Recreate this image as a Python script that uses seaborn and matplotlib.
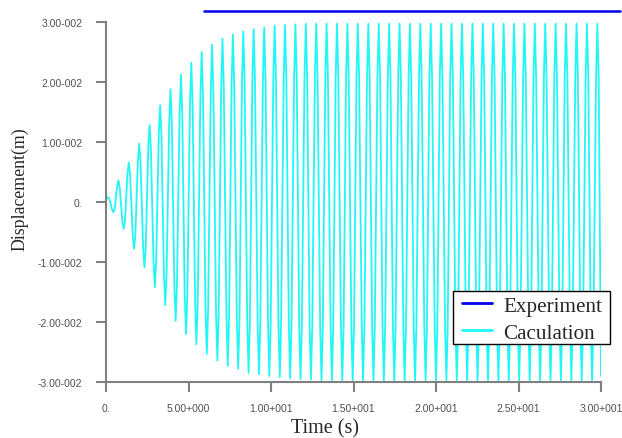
import matplotlib
matplotlib.use("Agg")
import matplotlib.pyplot as plt
from matplotlib.patches import Rectangle
import pandas as pd
import seaborn as sns

# ---- data (each cycle: shoulder, extreme, shoulder) ----
calc_time = [
    0.00,
    0.04, 0.12, 0.20,   0.36, 0.44, 0.52,   0.67, 0.75, 0.83,   0.99, 1.07, 1.15,
    1.30, 1.38, 1.46,   1.62, 1.70, 1.78,   1.93, 2.01, 2.09,   2.25, 2.33, 2.41,
    2.56, 2.64, 2.72,   2.88, 2.96, 3.04,   3.20, 3.28, 3.36,   3.51, 3.59, 3.67,
    3.83, 3.91, 3.99,   4.14, 4.22, 4.30,   4.46, 4.54, 4.62,   4.77, 4.85, 4.93,
    5.09, 5.17, 5.25,   5.40, 5.48, 5.56,   5.72, 5.80, 5.88,   6.03, 6.11, 6.19,
    6.35, 6.43, 6.51,   6.67, 6.75, 6.83,   6.98, 7.06, 7.14,   7.30, 7.38, 7.46,
    7.61, 7.69, 7.77,   7.93, 8.01, 8.09,   8.24, 8.32, 8.40,   8.56, 8.64, 8.72,
    8.87, 8.95, 9.03,   9.19, 9.27, 9.35,   9.51, 9.59, 9.67,   9.82, 9.90, 9.98,
    10.14, 10.22, 10.30,   10.45, 10.53, 10.61,   10.77, 10.85, 10.93,   11.08, 11.16, 11.24,
    11.40, 11.48, 11.56,   11.71, 11.79, 11.87,   12.03, 12.11, 12.19,   12.34, 12.42, 12.50,
    12.66, 12.74, 12.82,   12.98, 13.06, 13.14,   13.29, 13.37, 13.45,   13.61, 13.69, 13.77,
    13.92, 14.00, 14.08,   14.24, 14.32, 14.40,   14.55, 14.63, 14.71,   14.87, 14.95, 15.03,
    15.18, 15.26, 15.34,   15.50, 15.58, 15.66,   15.82, 15.90, 15.98,   16.13, 16.21, 16.29,
    16.45, 16.53, 16.61,   16.76, 16.84, 16.92,   17.08, 17.16, 17.24,   17.39, 17.47, 17.55,
    17.71, 17.79, 17.87,   18.02, 18.10, 18.18,   18.34, 18.42, 18.50,   18.65, 18.73, 18.81,
    18.97, 19.05, 19.13,   19.29, 19.37, 19.45,   19.60, 19.68, 19.76,   19.92, 20.00, 20.08,
    20.23, 20.31, 20.39,   20.55, 20.63, 20.71,   20.86, 20.94, 21.02,   21.18, 21.26, 21.34,
    21.49, 21.57, 21.65,   21.81, 21.89, 21.97,   22.13, 22.21, 22.29,   22.44, 22.52, 22.60,
    22.76, 22.84, 22.92,   23.07, 23.15, 23.23,   23.39, 23.47, 23.55,   23.70, 23.78, 23.86,
    24.02, 24.10, 24.18,   24.33, 24.41, 24.49,   24.65, 24.73, 24.81,   24.96, 25.04, 25.12,
    25.28, 25.36, 25.44,   25.60, 25.68, 25.76,   25.91, 25.99, 26.07,   26.23, 26.31, 26.39,
    26.54, 26.62, 26.70,   26.86, 26.94, 27.02,   27.17, 27.25, 27.33,   27.49, 27.57, 27.65,
    27.80, 27.88, 27.96,   28.12, 28.20, 28.28,   28.44, 28.52, 28.60,   28.75, 28.83, 28.91,
    29.07, 29.15, 29.23,   29.38, 29.46, 29.54,   29.70, 29.78, 29.86,
    30.00,
]
calc_disp = [
    0.0000,
    0.0006, 0.0008, 0.0006,   -0.0012, -0.0017, -0.0012,   0.0025, 0.0036, 0.0025,   -0.0032, -0.0045, -0.0032,
    0.0046, 0.0066, 0.0046,   -0.0055, -0.0078, -0.0055,   0.0068, 0.0097, 0.0068,   -0.0076, -0.0109, -0.0076,
    0.0090, 0.0128, 0.0090,   -0.0099, -0.0142, -0.0099,   0.0113, 0.0161, 0.0113,   -0.0120, -0.0172, -0.0120,
    0.0132, 0.0188, 0.0132,   -0.0139, -0.0198, -0.0139,   0.0148, 0.0212, 0.0148,   -0.0154, -0.0220, -0.0154,
    0.0162, 0.0232, 0.0162,   -0.0166, -0.0237, -0.0166,   0.0175, 0.0250, 0.0175,   -0.0177, -0.0253, -0.0177,
    0.0183, 0.0262, 0.0183,   -0.0185, -0.0264, -0.0185,   0.0190, 0.0272, 0.0190,   -0.0191, -0.0273, -0.0191,
    0.0195, 0.0279, 0.0195,   -0.0195, -0.0278, -0.0195,   0.0199, 0.0284, 0.0199,   -0.0200, -0.0285, -0.0200,
    0.0202, 0.0288, 0.0202,   -0.0201, -0.0287, -0.0201,   0.0204, 0.0291, 0.0204,   -0.0203, -0.0290, -0.0203,
    0.0206, 0.0294, 0.0206,   -0.0204, -0.0292, -0.0204,   0.0207, 0.0295, 0.0207,   -0.0206, -0.0294, -0.0206,
    0.0207, 0.0296, 0.0207,   -0.0207, -0.0295, -0.0207,   0.0208, 0.0297, 0.0208,   -0.0207, -0.0296, -0.0207,
    0.0208, 0.0297, 0.0208,   -0.0208, -0.0297, -0.0208,   0.0208, 0.0297, 0.0208,   -0.0208, -0.0297, -0.0208,
    0.0208, 0.0297, 0.0208,   -0.0208, -0.0297, -0.0208,   0.0208, 0.0297, 0.0208,   -0.0208, -0.0297, -0.0208,
    0.0208, 0.0297, 0.0208,   -0.0208, -0.0297, -0.0208,   0.0208, 0.0297, 0.0208,   -0.0208, -0.0297, -0.0208,
    0.0208, 0.0297, 0.0208,   -0.0208, -0.0297, -0.0208,   0.0208, 0.0297, 0.0208,   -0.0208, -0.0297, -0.0208,
    0.0208, 0.0297, 0.0208,   -0.0208, -0.0297, -0.0208,   0.0208, 0.0297, 0.0208,   -0.0208, -0.0297, -0.0208,
    0.0208, 0.0297, 0.0208,   -0.0208, -0.0297, -0.0208,   0.0208, 0.0297, 0.0208,   -0.0208, -0.0297, -0.0208,
    0.0208, 0.0297, 0.0208,   -0.0208, -0.0297, -0.0208,   0.0208, 0.0297, 0.0208,   -0.0208, -0.0297, -0.0208,
    0.0208, 0.0297, 0.0208,   -0.0208, -0.0297, -0.0208,   0.0208, 0.0297, 0.0208,   -0.0208, -0.0297, -0.0208,
    0.0208, 0.0297, 0.0208,   -0.0208, -0.0297, -0.0208,   0.0208, 0.0297, 0.0208,   -0.0208, -0.0297, -0.0208,
    0.0208, 0.0297, 0.0208,   -0.0208, -0.0297, -0.0208,   0.0208, 0.0297, 0.0208,   -0.0208, -0.0297, -0.0208,
    0.0208, 0.0297, 0.0208,   -0.0208, -0.0297, -0.0208,   0.0208, 0.0297, 0.0208,   -0.0208, -0.0297, -0.0208,
    0.0208, 0.0297, 0.0208,   -0.0208, -0.0297, -0.0208,   0.0208, 0.0297, 0.0208,   -0.0208, -0.0297, -0.0208,
    0.0208, 0.0297, 0.0208,   -0.0208, -0.0297, -0.0208,   0.0208, 0.0297, 0.0208,   -0.0208, -0.0297, -0.0208,
    0.0208, 0.0297, 0.0208,   -0.0208, -0.0297, -0.0208,   0.0208, 0.0297, 0.0208,
    -0.0290,
]
exp_time = [5.94, 31.15]
exp_disp = [0.0318, 0.0318]

x_ticks = [0, 5, 10, 15, 20, 25, 30]
x_tick_labels = ["0.", "5.00+000", "1.00+001", "1.50+001", "2.00+001", "2.50+001", "3.00+001"]
y_ticks = [-0.03, -0.02, -0.01, 0.0, 0.01, 0.02, 0.03]
y_tick_labels = ["-3.00-002", "-2.00-002", "-1.00-002", "0.", "1.00-002", "2.00-002", "3.00-002"]

series_names = ["Experiment", "Caculation"]

# ---- figure ----
sns.set_style("ticks")
plt.rcParams["font.family"] = ["Liberation Sans", "DejaVu Sans"]
serif = ["Liberation Serif", "DejaVu Serif"]

W, H = 622, 439
fig = plt.figure(figsize=(W / 100, H / 100), dpi=100)
ax = fig.add_axes([106 / W, 1 - 383 / H, (601 - 106) / W, (383 - 23) / H])

calc_df = pd.DataFrame({"time": calc_time, "disp": calc_disp})
exp_df = pd.DataFrame({"time": exp_time, "disp": exp_disp})

sns.lineplot(data=exp_df, x="time", y="disp", ax=ax, color="#0000ee", linewidth=1.8,
             estimator=None, sort=False, label=series_names[0], clip_on=False)
sns.lineplot(data=calc_df, x="time", y="disp", ax=ax, color="#22f6f6", linewidth=1.3,
             estimator=None, sort=False, label=series_names[1])

ax.set_xlim(0, 30)
ax.set_ylim(-0.03, 0.03)
ax.set_xticks(x_ticks)
ax.set_xticklabels(x_tick_labels)
ax.set_yticks(y_ticks)
ax.set_yticklabels(y_tick_labels)

for s in ["top", "right"]:
    ax.spines[s].set_visible(False)
for s in ["left", "bottom"]:
    ax.spines[s].set_color("#808080")
    ax.spines[s].set_linewidth(1.5)

ax.tick_params(axis="both", direction="out", length=7, width=1.5, color="#808080",
               labelsize=7.5, labelcolor="#505050")
ax.tick_params(axis="y", pad=10)
ax.tick_params(axis="x", pad=8)

ax.set_xlabel("Time (s)", family=serif, fontsize=14.5, va="center")
ax.xaxis.set_label_coords((325 - 106) / 495, (383 - 429) / 360)
ax.set_ylabel("Displacement(m)", family=serif, fontsize=12.8, va="center")
ax.yaxis.set_label_coords((20 - 106) / 495, (383 - 189) / 360)

# legend frame (drawn separately so horizontal and vertical padding can differ)
frame = Rectangle((453 / W, 1 - 345 / H), 157 / W, 53 / H, transform=fig.transFigure,
                  facecolor="white", edgecolor="black", linewidth=1.0,
                  clip_on=False, zorder=4.9)
ax.add_patch(frame)

leg = ax.legend(loc="upper left", bbox_to_anchor=(462 / W, 1 - 297 / H),
                bbox_transform=fig.transFigure, borderaxespad=0, frameon=False,
                prop={"family": serif, "size": 15.2},
                handlelength=1.42, handletextpad=0.52, labelspacing=0.34,
                borderpad=0.0)
leg.set_zorder(5)
for line in leg.get_lines():
    line.set_linewidth(2.0)

fig.savefig("out.png", dpi=100)
